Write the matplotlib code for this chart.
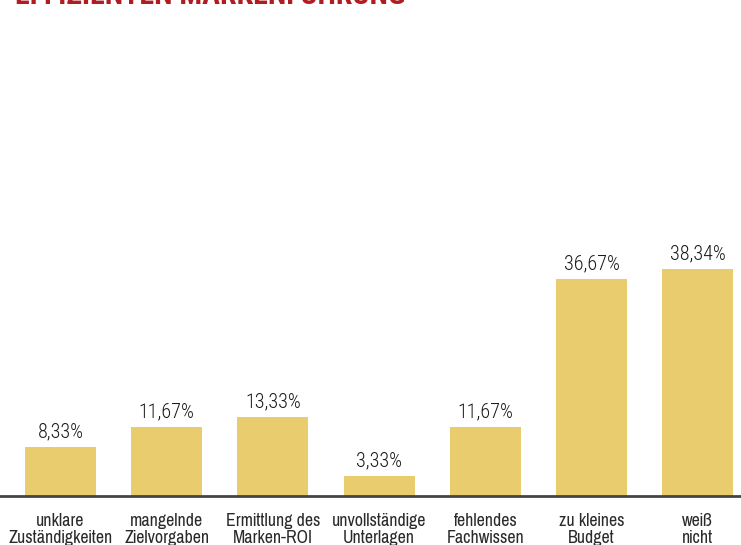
import matplotlib
matplotlib.use("Agg")
import matplotlib.pyplot as plt

categories = ["unklare\nZuständigkeiten", "mangelnde\nZielvorgaben", "Ermittlung des\nMarken-ROI",
              "unvollständige\nUnterlagen", "fehlendes\nFachwissen", "zu kleines\nBudget", "weiß\nnicht"]
values = [8.33, 11.67, 13.33, 3.33, 11.67, 36.67, 38.34]
labels = ["8,33%", "11,67%", "13,33%", "3,33%", "11,67%", "36,67%", "38,34%"]

plt.rcParams['font.family'] = ['Roboto Condensed', 'DejaVu Sans']
narrow = ['Pragati Narrow', 'Roboto Condensed', 'DejaVu Sans']

fig = plt.figure(figsize=(7.41, 5.45), dpi=100)
ax = fig.add_axes([0, 49 / 545, 1, 496 / 545])

x = range(len(values))
ax.bar(x, values, width=0.669, color="#E8CC6E")
for i, v in enumerate(values):
    ax.annotate(labels[i], (i, v), xytext=(0, 4), textcoords="offset points",
                ha="center", va="bottom", fontsize=14.5, fontweight="light", color="#1a1a1a")

ax.set_xlim(-0.570, 6.408)
ax.set_ylim(0, 496 / 5.92)
ax.set_xticks(list(x))
ax.set_xticklabels(categories, fontsize=14, family=narrow, color="#2a2a2a", linespacing=1.08)
ax.tick_params(axis="x", length=0, pad=12)
ax.set_yticks([])
for s in ["top", "right", "left"]:
    ax.spines[s].set_visible(False)
ax.spines["bottom"].set_color("#444444")
ax.spines["bottom"].set_linewidth(2)

fig.text(15 / 741, 1 - 4 / 545, "EFFIZIENTEN MARKENFÜHRUNG", color="#B01C22",
         fontsize=21.5, fontweight="bold", ha="left", va="baseline")

fig.savefig("out.png", dpi=100)
